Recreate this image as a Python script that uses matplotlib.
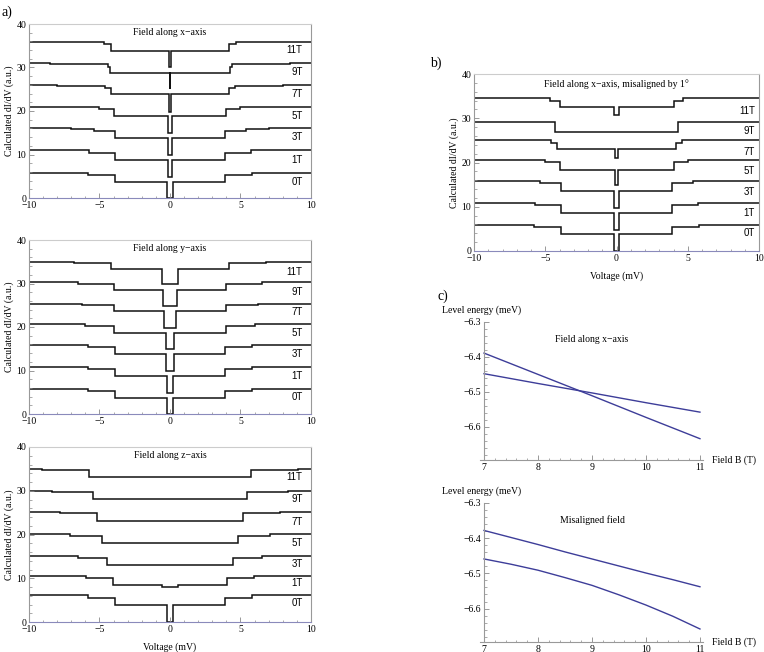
import numpy as np
import matplotlib.pyplot as plt
from matplotlib.ticker import MultipleLocator

plt.rcParams['font.family'] = 'Liberation Serif'
plt.rcParams['font.size'] = 7

fields = ['0T', '1T', '3T', '5T', '7T', '9T', '11T']

# step edges |V| (mV) and dI/dV levels from the centre outwards, one row per field
x_edges = [[0.18, 3.9, 5.8], [0.16, 3.9, 5.75], [0.15, 3.9, 5.4, 7.0],
           [0.12, 4.0, 5.0, 7.5], [0.06, 4.15, 4.6, 8.0], [0.02, 4.25, 4.4, 8.5],
           [0.06, 4.2, 4.7, 8.0]]
x_levels = [[0.0, 3.75, 5.4, 5.85], [4.9, 8.8, 10.42, 10.96], [9.8, 13.87, 15.5, 15.85, 16.0],
            [14.9, 18.85, 20.45, 20.85, 21.0], [19.85, 23.8, 25.4, 25.85, 26.0],
            [25.0, 28.8, 30.2, 30.8, 31.0], [30.0, 33.8, 35.45, 35.85, 35.95]]
x_label_y = [3.75, 8.7, 13.95, 18.85, 23.8, 28.9, 34.0]

y_edges = [[0.18, 3.9, 5.8], [0.18, 3.9, 5.8], [0.25, 3.9, 5.85], [0.3, 3.95, 6.0],
           [0.4, 3.95, 6.25], [0.5, 4.0, 6.5], [0.6, 4.15, 6.8]]
y_levels = [[0.0, 3.75, 5.3, 5.82], [4.9, 8.8, 10.4, 10.9], [9.9, 13.7, 15.4, 15.8],
            [14.9, 18.7, 20.2, 20.7], [19.85, 23.7, 25.0, 25.4], [24.9, 28.4, 30.0, 30.3],
            [30.0, 33.3, 34.6, 34.9]]
y_label_y = [3.8, 8.8, 13.8, 18.55, 23.4, 28.1, 32.7]

z_edges = [[0.18, 3.9, 5.8], [0.55, 4.03, 5.95], [4.5, 6.5], [4.85, 7.1],
           [5.15, 7.8], [5.47, 8.4], [5.77, 9.1]]
z_levels = [[0.0, 3.9, 5.57, 6.1], [8.0, 8.47, 10.08, 10.6], [12.95, 14.7, 15.1],
            [18.0, 19.7, 20.1], [23.1, 24.9, 25.2], [28.1, 29.8, 30.0], [33.05, 34.8, 35.0]]
z_label_y = [4.3, 8.9, 13.3, 18.1, 22.9, 28.1, 33.1]

m_edges = [[0.17, 3.9, 5.77], [0.15, 3.9, 5.75], [0.15, 3.92, 5.4], [0.13, 4.0, 5.0],
           [0.12, 4.17, 4.6], [0.3, 4.35], [0.17, 4.0, 4.64]]
m_levels = [[0.0, 3.78, 5.45, 5.98], [4.84, 8.62, 10.36, 10.9], [9.83, 13.6, 15.28, 15.8],
            [14.9, 18.3, 20.05, 20.57], [20.95, 23.07, 24.36, 25.1], [26.85, 27.0, 29.2],
            [30.8, 32.5, 33.8, 34.57]]
m_label_y = [4.0, 8.7, 13.4, 18.1, 22.4, 27.1, 31.6]

# level energies vs field
B = [7, 8, 9, 10, 11]
cx_level1 = [-6.389, -6.450, -6.511, -6.573, -6.634]
cx_level2 = [-6.448, -6.476, -6.503, -6.531, -6.558]
B_mis = [7, 7.5, 8, 8.5, 9, 9.5, 10, 10.5, 11]
cm_level1 = [-6.378, -6.398, -6.418, -6.439, -6.459, -6.479, -6.499, -6.518, -6.538]
cm_level2 = [-6.459, -6.474, -6.491, -6.512, -6.534, -6.561, -6.590, -6.622, -6.658]

W, H = 764, 652
fig = plt.figure(figsize=(W / 100, H / 100), dpi=100)


def box(l, t, r, b):
    return [l / W, 1 - b / H, (r - l) / W, (b - t) / H]


def spectra(rect, edges, levels, label_y, label_x, title, title_y, xlabel=None):
    ax = fig.add_axes(rect)
    for e, lv in zip(edges, levels):
        e = np.asarray(e)
        lv = np.asarray(lv)
        bins = np.concatenate([[-10], -e[::-1], e, [10]])
        vals = np.concatenate([lv[::-1], lv[1:]])
        ax.stairs(vals, bins, baseline=None, color='#111111', lw=1.1)
    for y, name in zip(label_y, fields):
        ax.text(label_x, y, name, ha='right', va='center', family='Liberation Sans', fontsize=7)
    ax.text(0, title_y, title, ha='center', va='center')
    ax.set_xlim(-10, 10)
    ax.set_ylim(0, 40)
    ax.xaxis.set_major_locator(MultipleLocator(5))
    ax.xaxis.set_minor_locator(MultipleLocator(1))
    ax.yaxis.set_major_locator(MultipleLocator(10))
    ax.yaxis.set_minor_locator(MultipleLocator(2))
    ax.tick_params(which='both', direction='in', colors='#888888', labelcolor='black', pad=2)
    ax.tick_params(which='major', length=3.5, width=0.6)
    ax.tick_params(which='minor', length=1.8, width=0.5)
    for s in ['left', 'right']:
        ax.spines[s].set_color('#999999')
    ax.spines['top'].set_color('#cccccc')
    ax.spines['bottom'].set_color('#8a8abb')
    for s in ax.spines.values():
        s.set_linewidth(0.8)
    ax.set_ylabel('Calculated dI/dV (a.u.)', labelpad=2)
    if xlabel:
        ax.set_xlabel(xlabel, labelpad=6)
    return ax


spectra(box(29, 24, 311, 198), x_edges, x_levels, x_label_y, 9.4,
        'Field along x\u2212axis', 38.1)
spectra(box(29, 240, 311, 414), y_edges, y_levels, y_label_y, 9.4,
        'Field along y\u2212axis', 38.1)
spectra(box(29, 447, 311, 622), z_edges, z_levels, z_label_y, 9.4,
        'Field along z\u2212axis', 38.1, 'Voltage (mV)')
spectra(box(474, 74, 759, 251), m_edges, m_levels, m_label_y, 9.7,
        'Field along x\u2212axis, misaligned by 1\u00b0', 37.7, 'Voltage (mV)')

blue = '#3d3d99'


def levels_panel(top, bottom, b, l1, l2, title, title_y):
    ax = fig.add_axes(box(479.7, top, 703.2, bottom))
    ax.plot(b, l1, color=blue, lw=1.0)
    ax.plot(b, l2, color=blue, lw=1.0)
    ax.set_xlim(6.92, 11.06)
    ax.set_ylim(-6.695, -6.3)
    ax.spines['left'].set_position(('data', 7))
    ax.spines['top'].set_visible(False)
    ax.spines['right'].set_visible(False)
    for s in ['left', 'bottom']:
        ax.spines[s].set_color('#999999')
        ax.spines[s].set_linewidth(0.8)
    ax.set_xticks(B)
    ax.xaxis.set_minor_locator(MultipleLocator(0.2))
    ax.set_yticks([-6.6, -6.5, -6.4, -6.3])
    ax.yaxis.set_minor_locator(MultipleLocator(0.02))
    ax.tick_params(which='both', direction='in', colors='#888888', labelcolor='black', pad=2)
    ax.tick_params(which='major', length=3.5, width=0.6)
    ax.tick_params(which='minor', length=1.8, width=0.5)
    ax.text(9.0, title_y, title, ha='center', va='center')
    fig.text(442 / W, 1 - (top - 12) / H, 'Level energy (meV)', ha='left', va='center')
    fig.text(712 / W, 1 - bottom / H, 'Field B (T)', ha='left', va='center')
    return ax


levels_panel(322, 460, B, cx_level1, cx_level2, 'Field along x\u2212axis', -6.349)
levels_panel(503, 642, B_mis, cm_level1, cm_level2, 'Misaligned field', -6.348)

fig.text(1 / W, 1 - 12 / H, 'a)', fontsize=10, va='center')
fig.text(430 / W, 1 - 63 / H, 'b)', fontsize=10, va='center')
fig.text(438 / W, 1 - 296 / H, 'c)', fontsize=10, va='center')

fig.savefig('out.png', dpi=100)
